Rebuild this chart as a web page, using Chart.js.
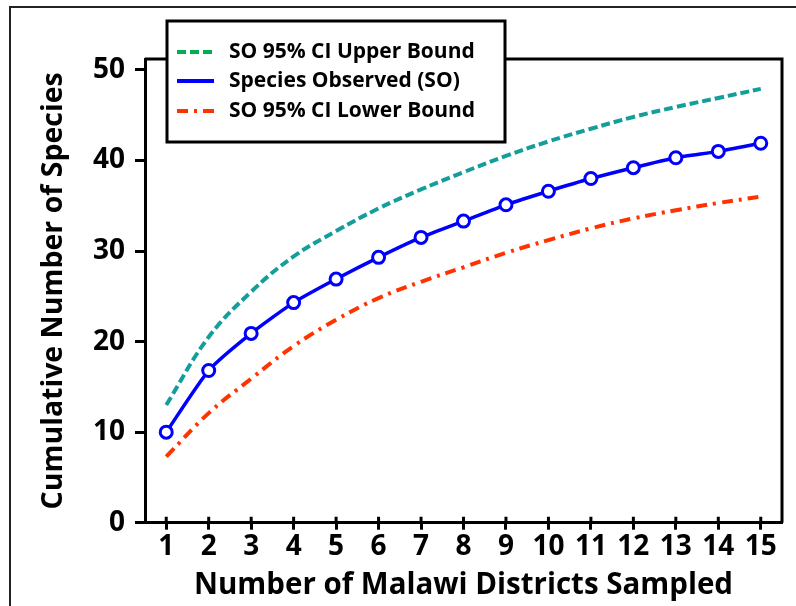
<!DOCTYPE html>
<html>
<head>
<meta charset="utf-8">
<script src="https://cdn.jsdelivr.net/npm/chart.js@4"></script>
<style>
  html, body { margin: 0; padding: 0; background: #fff; }
  #wrap { width: 796px; height: 606px; position: relative; }
</style>
</head>
<body>
<div id="wrap"><canvas id="g-curva"></canvas></div>
<script>
// districts sampled (x axis)
var distritos = ['1','2','3','4','5','6','7','8','9','10','11','12','13','14','15'];
// species observed and 95% CI bounds
var observadas = [10.0, 16.8, 20.9, 24.3, 26.9, 29.3, 31.5, 33.3, 35.1, 36.6, 38.0, 39.2, 40.3, 41.0, 41.9];
var limiteSup  = [13.0, 20.5, 25.5, 29.4, 32.2, 34.7, 36.8, 38.7, 40.5, 42.1, 43.5, 44.8, 45.9, 46.9, 47.9];
var limiteInf  = [7.3, 12.1, 15.9, 19.5, 22.4, 24.8, 26.6, 28.2, 29.8, 31.2, 32.5, 33.6, 34.5, 35.3, 36.0];
var ticksY = [0, 10, 20, 30, 40, 50];

var fuente = '"Open Sans", Lato, sans-serif';

// frame, plot box and the inner half of the x ticks
var marco = {
  id: 'marco',
  beforeDraw: function (chart) {
    var c = chart.ctx;
    c.save();
    c.strokeStyle = '#222';
    c.lineWidth = 2;
    c.beginPath();
    c.moveTo(10, 606); c.lineTo(10, 7); c.lineTo(796, 7);
    c.stroke();
    c.restore();
  },
  afterDatasetsDraw: function (chart) {
    var a = chart.chartArea, c = chart.ctx, x = chart.scales.x;
    c.save();
    c.strokeStyle = '#000';
    c.lineWidth = 3;
    c.beginPath();
    c.moveTo(a.left, a.top); c.lineTo(a.right, a.top); c.lineTo(a.right, a.bottom);
    c.stroke();
    c.beginPath();
    for (var i = 0; i < x.ticks.length; i++) {
      var px = x.getPixelForTick(i);
      c.moveTo(px, a.bottom - 6); c.lineTo(px, a.bottom);
    }
    c.stroke();
    c.restore();
  }
};

// boxed legend drawn over the plot's top edge
var leyenda = {
  id: 'leyenda',
  afterDraw: function (chart) {
    var c = chart.ctx;
    var caja = { x: 167, y: 21, w: 338, h: 121 };
    c.save();
    c.fillStyle = '#fff';
    c.fillRect(caja.x, caja.y, caja.w, caja.h);
    c.strokeStyle = '#000';
    c.lineWidth = 3;
    c.strokeRect(caja.x, caja.y, caja.w, caja.h);
    var filas = [52, 81, 111];
    chart.data.datasets.forEach(function (ds, i) {
      var y = filas[i];
      c.strokeStyle = ds.legendColor || ds.borderColor;
      c.lineWidth = 4;
      c.setLineDash(ds.borderDash || []);
      c.beginPath();
      c.moveTo(177, y); c.lineTo(214, y);
      c.stroke();
      c.setLineDash([]);
      c.fillStyle = '#000';
      c.font = 'bold 21px ' + fuente;
      c.textBaseline = 'middle';
      c.fillText(ds.label, 229, y);
    });
    c.restore();
  }
};

var ctx = document.getElementById('g-curva').getContext('2d');
var g_curva = new Chart(ctx, {
  type: 'line',
  data: {
    labels: distritos,
    datasets: [
      {
        label: 'SO 95% CI Upper Bound',
        data: limiteSup,
        borderColor: '#149E9B',
        legendColor: '#00B050',
        borderWidth: 4,
        borderDash: [9, 4],
        pointRadius: 0,
        tension: 0.4
      },
      {
        label: 'Species Observed (SO)',
        data: observadas,
        borderColor: '#0000FF',
        borderWidth: 3.5,
        pointRadius: 6,
        pointBorderWidth: 3,
        pointBackgroundColor: '#fff',
        pointBorderColor: '#0000FF',
        tension: 0.2
      },
      {
        label: 'SO 95% CI Lower Bound',
        data: limiteInf,
        borderColor: '#FF3300',
        borderWidth: 4,
        borderDash: [11, 6, 3, 6],
        pointRadius: 0,
        tension: 0.4
      }
    ]
  },
  options: {
    responsive: true,
    maintainAspectRatio: false,
    animation: false,
    layout: { padding: { left: 0, right: 14, top: 59, bottom: 0 } },
    plugins: { legend: { display: false }, tooltip: { enabled: false } },
    scales: {
      x: {
        type: 'category',
        offset: true,
        grid: { drawOnChartArea: false, tickLength: 7, tickWidth: 3, tickColor: '#000' },
        border: { display: true, color: '#000', width: 3 },
        ticks: { color: '#000', padding: 1, maxRotation: 0, autoSkip: false, font: { family: fuente, size: 28, weight: 'bold' } },
        title: {
          display: true,
          text: 'Number of Malawi Districts Sampled',
          color: '#000',
          padding: { top: 0, bottom: 3 },
          font: { family: fuente, size: 29.5, weight: 'bold' }
        },
        afterFit: function (s) { s.height = 83.3; }
      },
      y: {
        min: 0,
        max: 51.2,
        grid: { drawOnChartArea: false, tickLength: 10, tickWidth: 3, tickColor: '#000' },
        border: { display: true, color: '#000', width: 3 },
        ticks: { stepSize: 10, color: '#000', padding: 10, font: { family: fuente, size: 28, weight: 'bold' } },
        afterBuildTicks: function (s) {
          s.ticks = ticksY.map(function (v) { return { value: v }; });
        },
        title: {
          display: true,
          text: 'Cumulative Number of Species',
          color: '#000',
          padding: { top: 37, bottom: 0 },
          font: { family: fuente, size: 28.5, weight: 'bold' }
        },
        afterFit: function (s) { s.width = 145; }
      }
    }
  },
  plugins: [marco, leyenda]
});
</script>
</body>
</html>
